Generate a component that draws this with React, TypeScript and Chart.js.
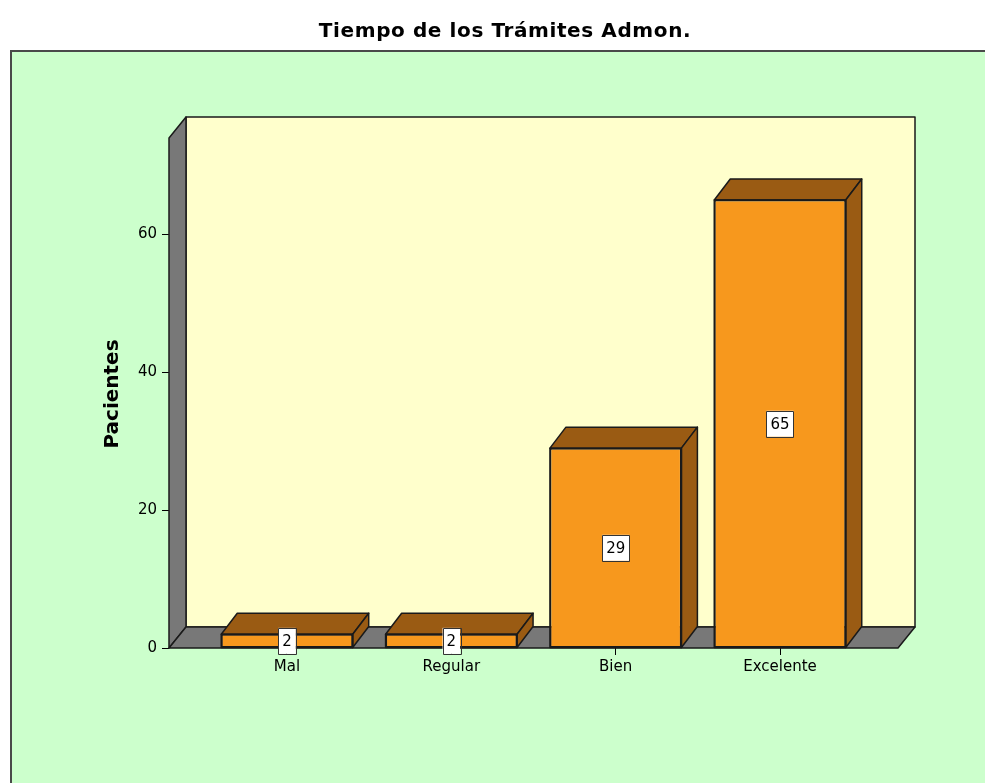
import React, { useEffect, useRef } from 'react';
import { Chart, registerables } from 'chart.js';

Chart.register(...registerables);

// ---- data ----
const categories: string[] = ['Mal', 'Regular', 'Bien', 'Excelente'];
const pacientes: number[] = [2, 2, 29, 65];
const yTickValues: number[] = [0, 20, 40, 60];
const yAxisMax = 74;
const chartTitle = 'Tiempo de los Trámites Admon.';
const yAxisTitle = 'Pacientes';

// ---- style ----
const FONT = '"DejaVu Sans", "Liberation Sans", Arial, sans-serif';
const ORANGE = '#F7981D';
const BROWN = '#9A5B13';
const WALL_GRAY = '#787878';
const BACK_WALL = '#FFFFCC';
const GREEN_BG = '#CCFFCC';
const EDGE = '#1a1a1a';
const WALL_DX = 17;
const WALL_DY = -21;
const BAR_DX = 16;
const BAR_DY = -21;

function poly(ctx: CanvasRenderingContext2D, pts: number[][], fill: string, stroke = EDGE, lw = 1.5) {
  ctx.beginPath();
  ctx.moveTo(pts[0][0], pts[0][1]);
  for (let i = 1; i < pts.length; i++) ctx.lineTo(pts[i][0], pts[i][1]);
  ctx.closePath();
  ctx.fillStyle = fill;
  ctx.fill();
  ctx.lineWidth = lw;
  ctx.lineJoin = 'round';
  ctx.strokeStyle = stroke;
  ctx.stroke();
}

const spssPlugin = {
  id: 'spss3d',
  beforeDraw(chart: any) {
    const { ctx, width, height } = chart;
    ctx.save();
    ctx.fillStyle = '#ffffff';
    ctx.fillRect(0, 0, width, height);
    ctx.fillStyle = GREEN_BG;
    ctx.fillRect(10, 50, width - 10, height - 50);
    ctx.strokeStyle = '#4a4a4a';
    ctx.lineWidth = 2;
    ctx.beginPath();
    ctx.moveTo(11, height);
    ctx.lineTo(11, 51);
    ctx.lineTo(width, 51);
    ctx.stroke();
    // title
    ctx.fillStyle = '#000';
    ctx.font = `bold 20px ${FONT}`;
    ctx.textAlign = 'center';
    ctx.textBaseline = 'alphabetic';
    try { (ctx as any).letterSpacing = '0.6px'; } catch (e) {}
    ctx.fillText(chartTitle, 505, 37);
    try { (ctx as any).letterSpacing = '0px'; } catch (e) {}
    // y axis title
    ctx.save();
    ctx.translate(118, 394);
    ctx.rotate(-Math.PI / 2);
    ctx.font = `bold 20px ${FONT}`;
    ctx.textAlign = 'center';
    ctx.textBaseline = 'alphabetic';
    ctx.fillText(yAxisTitle, 0, 0);
    ctx.restore();
    ctx.restore();
  },
  beforeDatasetsDraw(chart: any) {
    const { ctx, chartArea } = chart;
    const { left, right, top } = chartArea;
    const y0 = chart.scales.y.getPixelForValue(0);
    ctx.save();
    // back wall
    poly(ctx, [
      [left + WALL_DX, top + WALL_DY],
      [right + WALL_DX, top + WALL_DY],
      [right + WALL_DX, y0 + WALL_DY],
      [left + WALL_DX, y0 + WALL_DY],
    ], BACK_WALL);
    // left wall
    poly(ctx, [
      [left, top],
      [left + WALL_DX, top + WALL_DY],
      [left + WALL_DX, y0 + WALL_DY],
      [left, y0],
    ], WALL_GRAY);
    // floor
    poly(ctx, [
      [left, y0],
      [left + WALL_DX, y0 + WALL_DY],
      [right + WALL_DX, y0 + WALL_DY],
      [right, y0],
    ], WALL_GRAY);
    ctx.restore();
  },
  afterDatasetsDraw(chart: any) {
    const { ctx } = chart;
    const meta = chart.getDatasetMeta(0);
    ctx.save();
    meta.data.forEach((bar: any) => {
      const { x, y, base, width } = bar.getProps(['x', 'y', 'base', 'width'], true);
      const l = x - width / 2;
      const r = x + width / 2;
      poly(ctx, [[l, y], [l + BAR_DX, y + BAR_DY], [r + BAR_DX, y + BAR_DY], [r, y]], BROWN);
      poly(ctx, [[r, y], [r + BAR_DX, y + BAR_DY], [r + BAR_DX, base + BAR_DY], [r, base]], BROWN);
      poly(ctx, [[l, y], [r, y], [r, base], [l, base]], 'rgba(0,0,0,0)');
    });
    // value labels
    ctx.font = `15px ${FONT}`;
    ctx.textAlign = 'center';
    ctx.textBaseline = 'middle';
    meta.data.forEach((bar: any, i: number) => {
      const { x, y, base } = bar.getProps(['x', 'y', 'base'], true);
      const cy = (y + base) / 2;
      const txt = String(pacientes[i]);
      const w = ctx.measureText(txt).width + 8;
      const h = 26;
      ctx.fillStyle = '#ffffff';
      ctx.fillRect(x - w / 2, cy - h / 2, w, h);
      ctx.strokeStyle = '#333';
      ctx.lineWidth = 1;
      ctx.strokeRect(Math.round(x - w / 2) + 0.5, Math.round(cy - h / 2) + 0.5, Math.round(w), h);
      ctx.fillStyle = '#000';
      ctx.fillText(txt, x, cy + 1);
    });
    ctx.restore();
  },
};

export default function App() {
  const canvasRef = useRef<HTMLCanvasElement | null>(null);

  useEffect(() => {
    if (!canvasRef.current) return;
    const half = 0.5;
    const sidePad = 0.218;
    const chart = new Chart(canvasRef.current, {
      type: 'bar',
      data: {
        datasets: [
          {
            label: yAxisTitle,
            data: pacientes.map((v, i) => ({ x: i, y: v })),
            backgroundColor: ORANGE,
            borderColor: EDGE,
            borderWidth: 1.5,
            borderSkipped: false,
            barPercentage: 0.8,
            categoryPercentage: 1,
          },
        ],
      },
      options: {
        responsive: false,
        animation: false,
        devicePixelRatio: 1,
        layout: { padding: { left: 0, right: 87, top: 138, bottom: 0 } },
        plugins: {
          legend: { display: false },
          tooltip: { enabled: false },
          title: { display: false },
        },
        scales: {
          x: {
            type: 'linear',
            min: -half - sidePad,
            max: categories.length - 1 + half + sidePad,
            offset: false,
            border: { display: false },
            grid: { display: true, offset: false, drawOnChartArea: false, drawTicks: true, tickLength: 7, color: '#000', lineWidth: 1 },
            ticks: {
              stepSize: 1,
              includeBounds: false,
              autoSkip: false,
              maxRotation: 0,
              padding: 3,
              color: '#000',
              font: { family: FONT, size: 15 },
              callback: (v: any) => categories[Math.round(Number(v))] ?? '',
            },
            afterBuildTicks: (scale: any) => {
              scale.ticks = categories.map((_, i) => ({ value: i }));
            },
            afterFit: (scale: any) => {
              scale.height = 135;
            },
          },
          y: {
            type: 'linear',
            min: 0,
            max: yAxisMax,
            border: { display: false },
            grid: { display: true, offset: false, drawOnChartArea: false, drawTicks: true, tickLength: 7, color: '#000', lineWidth: 1 },
            ticks: {
              stepSize: 20,
              includeBounds: false,
              padding: 5,
              color: '#000',
              font: { family: FONT, size: 15 },
            },
            afterBuildTicks: (scale: any) => {
              scale.ticks = yTickValues.map((v) => ({ value: v }));
            },
            afterFit: (scale: any) => {
              scale.width = 169;
            },
          },
        },
      },
      plugins: [spssPlugin],
    });
    return () => chart.destroy();
  }, []);

  return (
    <div style={{ position: 'absolute', left: 0, top: 0, width: 985, height: 783 }}>
      <canvas ref={canvasRef} width={985} height={783} style={{ display: 'block' }} />
    </div>
  );
}
